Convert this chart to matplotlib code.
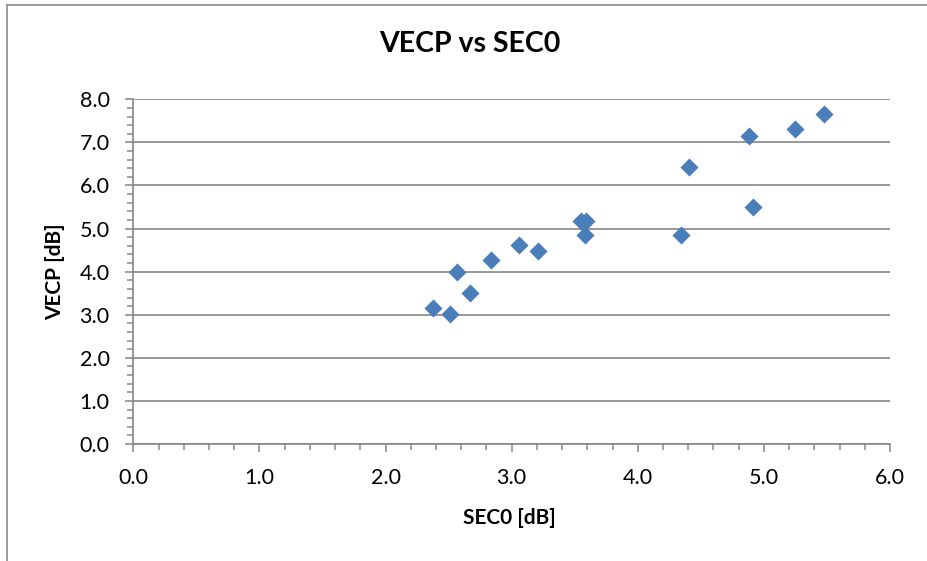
import matplotlib
matplotlib.use("Agg")
import matplotlib.pyplot as plt
from matplotlib.lines import Line2D
from matplotlib.ticker import MultipleLocator, FormatStrFormatter

plt.rcParams['font.family'] = ['Lato', 'DejaVu Sans']

# values
sec0_db = [2.38, 2.51, 2.57, 2.67, 2.84, 3.06, 3.21, 3.55, 3.59, 3.58,
           4.34, 4.41, 4.88, 4.91, 5.25, 5.48]
vecp_db = [3.15, 3.01, 4.00, 3.50, 4.27, 4.62, 4.48, 5.18, 5.18, 4.84,
           4.85, 6.43, 7.15, 5.49, 7.32, 7.65]

title = "VECP vs SEC0"
x_label = "SEC0 [dB]"
y_label = "VECP [dB]"

grid_gray = "#868686"
marker_blue = "#4A7EBB"

fig = plt.figure(figsize=(9.27, 5.61), dpi=100)
ax = fig.add_axes([133.3 / 927, 1 - 444 / 561, (890 - 133.3) / 927, (444 - 99.3) / 561])

ax.scatter(sec0_db, vecp_db, marker="D", s=85, color=marker_blue, linewidths=0, zorder=3)

ax.set_xlim(0, 6)
ax.set_ylim(0, 8)
ax.xaxis.set_major_locator(MultipleLocator(1))
ax.xaxis.set_minor_locator(MultipleLocator(0.2))
ax.yaxis.set_major_locator(MultipleLocator(1))
ax.yaxis.set_minor_locator(MultipleLocator(0.2))
ax.xaxis.set_major_formatter(FormatStrFormatter("%.1f"))
ax.yaxis.set_major_formatter(FormatStrFormatter("%.1f"))

ax.grid(axis="y", which="major", color=grid_gray, linewidth=1.2)
ax.set_axisbelow(True)
for side in ["top", "right"]:
    ax.spines[side].set_visible(False)
for side in ["left", "bottom"]:
    ax.spines[side].set_color(grid_gray)
    ax.spines[side].set_linewidth(1.2)

ax.tick_params(which="major", length=6, width=1.1, color=grid_gray, labelsize=15.5, pad=11)
ax.tick_params(which="minor", length=4, width=1.1, color=grid_gray)

ax.set_title(title, fontsize=20.5, fontweight="bold", x=0.445, y=1.137, pad=0)

ax.set_xlabel(x_label, fontsize=15, fontweight="bold", va="center")
ax.xaxis.set_label_coords(0.4965, -0.215)
ax.set_ylabel(y_label, fontsize=15, fontweight="bold", va="center")
ax.yaxis.set_label_coords(-0.1035, 0.5)

# outer chart-area border (only top and left edges are in frame)
fig.add_artist(Line2D([7 / 927, 7 / 927], [0, 1 - 5 / 561], color="#8C8C8C", linewidth=1.2))
fig.add_artist(Line2D([7 / 927, 1], [1 - 5 / 561, 1 - 5 / 561], color="#8C8C8C", linewidth=1.2))

fig.savefig("out.png", dpi=100)
